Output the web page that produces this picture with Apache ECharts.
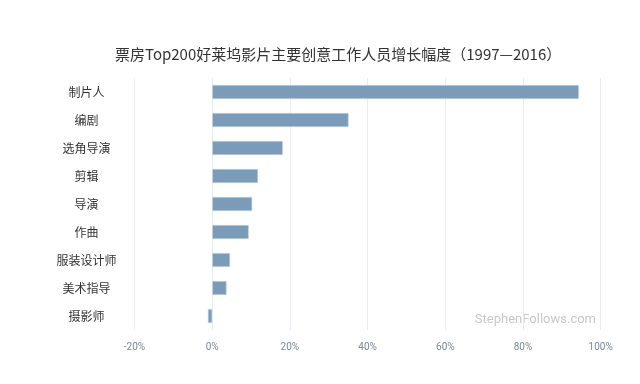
<!DOCTYPE html>
<html><head><meta charset="utf-8">
<script src="https://cdn.jsdelivr.net/npm/echarts@6/dist/echarts.min.js"></script>
<style>html,body{margin:0;padding:0;background:#fff}#c{width:640px;height:384px}</style>
</head><body><div id="c"></div>
<script>
const categories = ['制片人','编剧','选角导演','剪辑','导演','作曲','服装设计师','美术指导','摄影师'];
const growth = [94.4, 35.1, 18.2, 11.8, 10.3, 9.4, 4.6, 3.7, -1.1];
const titleText = '票房Top200好莱坞影片主要创意工作人员增长幅度（1997—2016）';
const watermark = 'StephenFollows.com';

const chart = echarts.init(document.getElementById('c'));
chart.setOption({
  animation: false,
  title: {
    text: titleText, left: 110, top: 42,
    textStyle: {fontFamily: 'Noto Sans CJK SC', fontSize: 15, fontWeight: 'normal', color: '#333'}
  },
  graphic: [{
    type: 'text', right: 44, top: 313,
    style: {text: watermark, fill: '#c8c8c8', font: '13px Roboto'}
  }],
  grid: {left: 134.5, right: 39.3, top: 78, bottom: 54},
  xAxis: {
    type: 'value', min: -20, max: 100, interval: 20,
    axisLine: {show: false}, axisTick: {show: false},
    splitLine: {lineStyle: {color: '#e8ecf2', width: 1}},
    axisLabel: {formatter: '{value}%', color: '#7a8794', fontSize: 10, fontFamily: 'Roboto', margin: 12}
  },
  yAxis: {
    type: 'category', data: categories, inverse: true,
    axisLine: {show: false}, axisTick: {show: false},
    axisLabel: {color: '#333', fontSize: 12, fontFamily: 'Noto Sans CJK SC', align: 'center', margin: 48}
  },
  series: [{
    type: 'bar', data: growth, barWidth: '50%',
    itemStyle: {color: '#7a9cb9', borderColor: '#c9d7e3', borderWidth: 0.6}
  }]
});
</script></body></html>
